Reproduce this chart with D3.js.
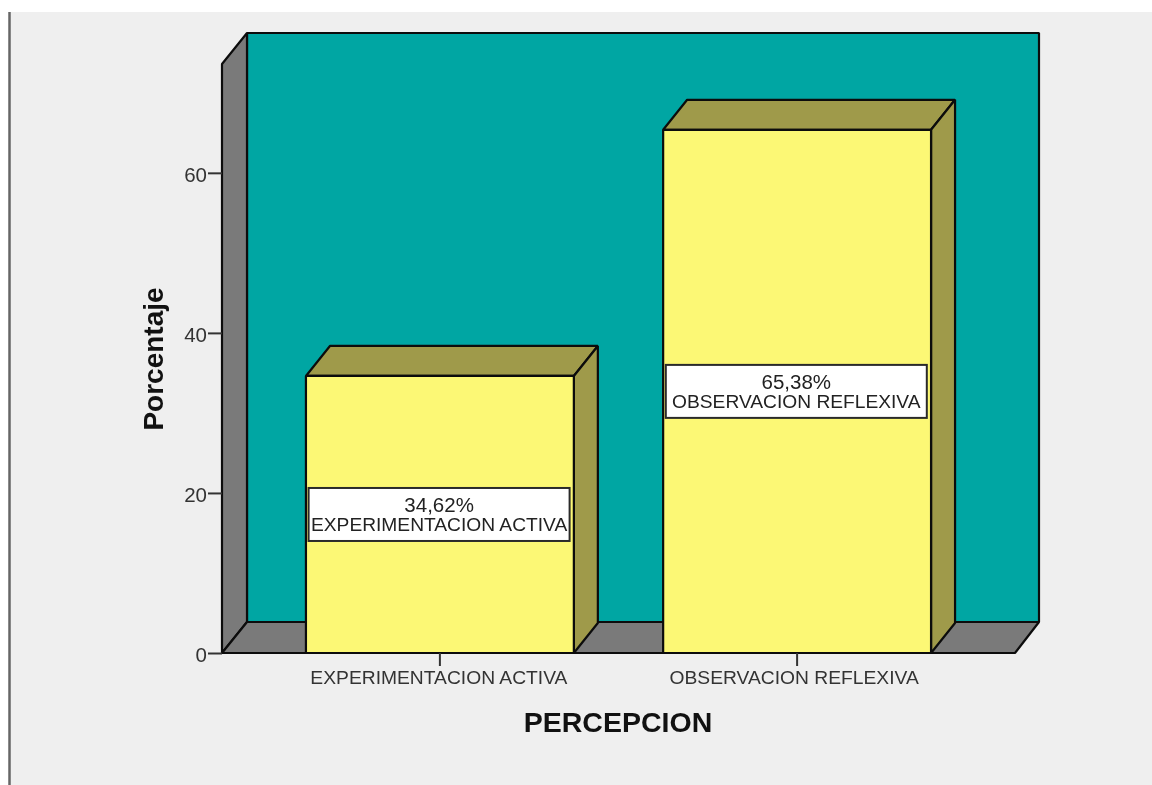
<!DOCTYPE html>
<html>
<head>
<meta charset="utf-8">
<script src="https://cdn.jsdelivr.net/npm/d3@7"></script>
<style>
html, body { margin: 0; padding: 0; background: #fff; overflow: hidden; }
svg { display: block; filter: blur(0.5px); }
text { font-family: "Liberation Sans", Arial, sans-serif; }
</style>
</head>
<body>
<svg id="chart" width="1152" height="785"></svg>
<script>
var categories = ["EXPERIMENTACION ACTIVA", "OBSERVACION REFLEXIVA"];
var boxLabels = ["EXPERIMENTACION ACTIVA", "OBSERVACION REFLEXIVA"];
var percentages = [34.62, 65.38];
var percentLabels = ["34,62%", "65,38%"];
var yTicks = [0, 20, 40, 60];
var yTitle = "Porcentaje";
var xTitle = "PERCEPCION";

var svg = d3.select("#chart");
var depthX = 25, depthY = 31;
var line = "#0c0c0c";

var x = d3.scaleBand()
    .domain(categories)
    .range([222, 1015])
    .paddingInner(0.25)
    .paddingOuter(0.235);

var y = d3.scaleLinear()
    .domain([0, 73.6])
    .range([653, 64]);

// window background and the line down the left
svg.append("rect").attr("x", 9).attr("y", 12).attr("width", 1143).attr("height", 773).attr("fill", "#efefef");
svg.append("line").attr("x1", 9.5).attr("x2", 9.5).attr("y1", 12).attr("y2", 785)
    .attr("stroke", "#666").attr("stroke-width", 2.5);

var x0 = x.range()[0], x1 = x.range()[1], y0 = y(0), yTop = y.range()[1];

function poly(points, fill) {
    return svg.append("polygon")
        .attr("points", points.map(function (p) { return p.join(","); }).join(" "))
        .attr("fill", fill)
        .attr("stroke", line)
        .attr("stroke-width", 2.2)
        .attr("stroke-linejoin", "bevel");
}

// back wall, side wall, floor
poly([[x0 + depthX, yTop - depthY], [x1 + depthX - 1, yTop - depthY], [x1 + depthX - 1, y0 - depthY], [x0 + depthX, y0 - depthY]], "#00a6a3");
poly([[x0, yTop], [x0 + depthX, yTop - depthY], [x0 + depthX, y0 - depthY], [x0, y0]], "#7a7a7a");
poly([[x0, y0], [x0 + depthX, y0 - depthY], [x1 + depthX - 1, y0 - depthY], [x1, y0]], "#7a7a7a");

// bars
categories.forEach(function (c, i) {
    var left = x(c), right = x(c) + x.bandwidth(), top = y(percentages[i]);
    var dx = 24, dy = 30;
    poly([[left, top], [left + dx, top - dy], [right + dx, top - dy], [right, top]], "#9f9a4a");
    poly([[right, top], [right + dx, top - dy], [right + dx, y0 - dy], [right, y0]], "#9f9a4a");
    poly([[left, top], [right, top], [right, y0], [left, y0]], "#fcf875");
});

// value boxes
categories.forEach(function (c, i) {
    var cx = x(c) + x.bandwidth() / 2 - 0.8, cy = y(percentages[i] / 2);
    var g = svg.append("g").attr("transform", "translate(" + cx + "," + cy + ")");
    g.append("rect")
        .attr("x", -130.5).attr("y", -26.5).attr("width", 261).attr("height", 53)
        .attr("fill", "#fff").attr("stroke", "#2a2a2a").attr("stroke-width", 2);
    g.append("text").attr("text-anchor", "middle").attr("y", -2)
        .attr("font-size", 20.5).attr("fill", "#222").text(percentLabels[i]);
    g.append("text").attr("text-anchor", "middle").attr("y", 17)
        .attr("font-size", 19.2).attr("fill", "#222").text(boxLabels[i]);
});

// axes
var yAxis = svg.append("g")
    .attr("transform", "translate(" + x0 + ",0)")
    .call(d3.axisLeft(y).tickValues(yTicks).tickSize(14).tickPadding(1));
var xAxis = svg.append("g")
    .attr("transform", "translate(0," + y0 + ")")
    .call(d3.axisBottom(x).tickSize(13).tickPadding(3));

yAxis.select(".domain").remove();
xAxis.select(".domain").remove();
svg.selectAll(".tick line").attr("stroke", "#333").attr("stroke-width", 2);
xAxis.selectAll(".tick text").attr("font-size", 19.25).attr("fill", "#333").attr("dy", "0.8em")
    .attr("dx", function (d, i) { return i === 0 ? -1 : -3; })
    .style("font-family", '"Liberation Sans", Arial, sans-serif');
yAxis.selectAll(".tick text").attr("font-size", 20.5).attr("fill", "#333").attr("dy", "0.42em")
    .style("font-family", '"Liberation Sans", Arial, sans-serif');

// titles
svg.append("text")
    .attr("transform", "translate(163,359) rotate(-90)")
    .attr("text-anchor", "middle")
    .attr("font-size", 28).attr("font-weight", "bold").attr("fill", "#111")
    .text(yTitle);
svg.append("text")
    .attr("x", 618).attr("y", 732)
    .attr("text-anchor", "middle")
    .attr("font-size", 28.5).attr("font-weight", "bold").attr("fill", "#111")
    .text(xTitle);
</script>
</body>
</html>
